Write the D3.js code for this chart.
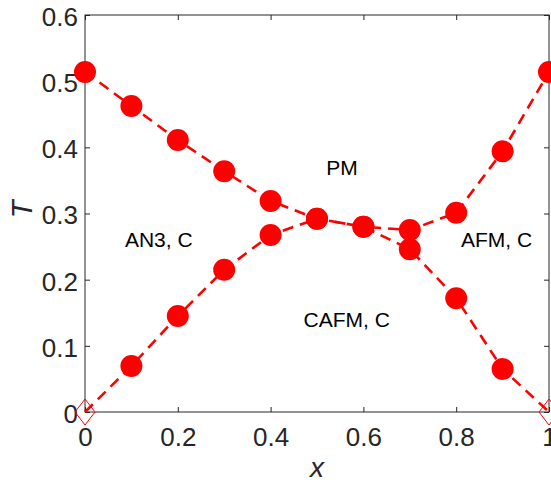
<!DOCTYPE html>
<html>
<head>
<meta charset="utf-8">
<script src="https://cdn.jsdelivr.net/npm/d3@7"></script>
<style>
  body { margin: 0; background: #fff; }
  text { font-family: Arial, "Liberation Sans", Helvetica, sans-serif; }
</style>
</head>
<body>
<div id="chart"></div>
<script>
let xs = [0, 0.1, 0.2, 0.3, 0.4, 0.5, 0.6, 0.7, 0.8, 0.9, 1.0];
// upper branch falling from x=0
let tFalling = [0.514, 0.4625, 0.411, 0.364, 0.319, 0.292, 0.280, 0.246, 0.172, 0.065, 0];
// lower branch rising towards x=1
let tRising = [0, 0.0695, 0.145, 0.215, 0.2675, 0.292, 0.280, 0.275, 0.301, 0.394, 0.514];
let xTicks = [0, 0.2, 0.4, 0.6, 0.8, 1];
let yTicks = [0, 0.1, 0.2, 0.3, 0.4, 0.5, 0.6];
let phaseLabels = [
    {name: "PM", x: 0.554, t: 0.369},
    {name: "AN3, C", x: 0.159, t: 0.260},
    {name: "AFM, C", x: 0.887, t: 0.260},
    {name: "CAFM, C", x: 0.564, t: 0.139}
];

let margin = {top: 15, right: 2, bottom: 72, left: 85},
    width = 551 - margin.left - margin.right,
    height = 484 - margin.top - margin.bottom;

let svg = d3.select("#chart").append("svg")
    .attr("width", 551)
    .attr("height", 484)
    .append("g")
    .attr("transform", "translate(" + margin.left + "," + margin.top + ")");

let x = d3.scaleLinear().domain([0, 1]).range([0, 464]);
let y = d3.scaleLinear().domain([0, 0.6]).range([397, 0]);

let axisColor = "#262626";

// box
svg.append("rect")
    .attr("width", x(1))
    .attr("height", y(0))
    .attr("fill", "none")
    .attr("stroke", axisColor)
    .attr("stroke-width", 1);

let tickLen = 5;
let fmt = d => d3.format("")(+d.toFixed(1));
let xAxis = svg.append("g").attr("transform", "translate(0," + y(0) + ")")
    .call(d3.axisBottom(x).tickValues(xTicks).tickSize(-tickLen).tickPadding(16).tickFormat(fmt));
let xTop = svg.append("g")
    .call(d3.axisTop(x).tickValues(xTicks).tickSize(-tickLen).tickFormat(""));
let yAxis = svg.append("g")
    .call(d3.axisLeft(y).tickValues(yTicks).tickSize(-tickLen).tickPadding(7).tickFormat(fmt));
let yRight = svg.append("g").attr("transform", "translate(" + x(1) + ",0)")
    .call(d3.axisRight(y).tickValues(yTicks).tickSize(-tickLen).tickFormat(""));

[xAxis, xTop, yAxis, yRight].forEach(a => {
    a.select(".domain").remove();
    a.selectAll("line").attr("stroke", axisColor);
    a.selectAll("text").attr("fill", axisColor).style("font-size", "26px");
});
xAxis.selectAll("text").attr("dy", "0.71em");
yAxis.selectAll("text").attr("dy", "0.4em");

// axis labels
svg.append("text")
    .attr("x", x(0.5))
    .attr("y", 462)
    .attr("text-anchor", "middle")
    .style("font-size", "28px")
    .style("font-style", "italic")
    .attr("fill", axisColor)
    .text("x");

svg.append("text")
    .attr("transform", "translate(" + (-53) + "," + (209.5 - margin.top) + ")rotate(-90)")
    .attr("text-anchor", "middle")
    .style("font-size", "29px")
    .style("font-style", "italic")
    .attr("fill", axisColor)
    .text("T");

let red = "#ff0000";
let line = d3.line().x((d, i) => x(xs[i])).y(d => y(d));

[tFalling, tRising].forEach(series => {
    svg.append("path")
        .datum(series)
        .attr("d", line)
        .attr("fill", "none")
        .attr("stroke", red)
        .attr("stroke-width", 2.6)
        .attr("stroke-dasharray", "11,7");
});

[tFalling, tRising].forEach(series => {
    let pts = series.map((t, i) => ({x: xs[i], t: t}));
    svg.selectAll(null)
        .data(pts.filter(p => p.t > 0))
        .enter().append("circle")
        .attr("cx", d => x(d.x))
        .attr("cy", d => y(d.t))
        .attr("r", 11)
        .attr("fill", red);
    svg.selectAll(null)
        .data(pts.filter(p => p.t === 0))
        .enter().append("path")
        .attr("transform", d => "translate(" + x(d.x) + "," + y(d.t) + ")")
        .attr("d", "M0,-13L10,0L0,13L-10,0Z")
        .attr("fill", "none")
        .attr("stroke", red)
        .attr("stroke-width", 1);
});

svg.selectAll(".phase")
    .data(phaseLabels)
    .enter().append("text")
    .attr("class", "phase")
    .attr("x", d => x(d.x))
    .attr("y", d => y(d.t))
    .attr("text-anchor", "middle")
    .attr("dy", "0.35em")
    .style("font-size", "21px")
    .attr("fill", "#000")
    .text(d => d.name);
</script>
</body>
</html>
